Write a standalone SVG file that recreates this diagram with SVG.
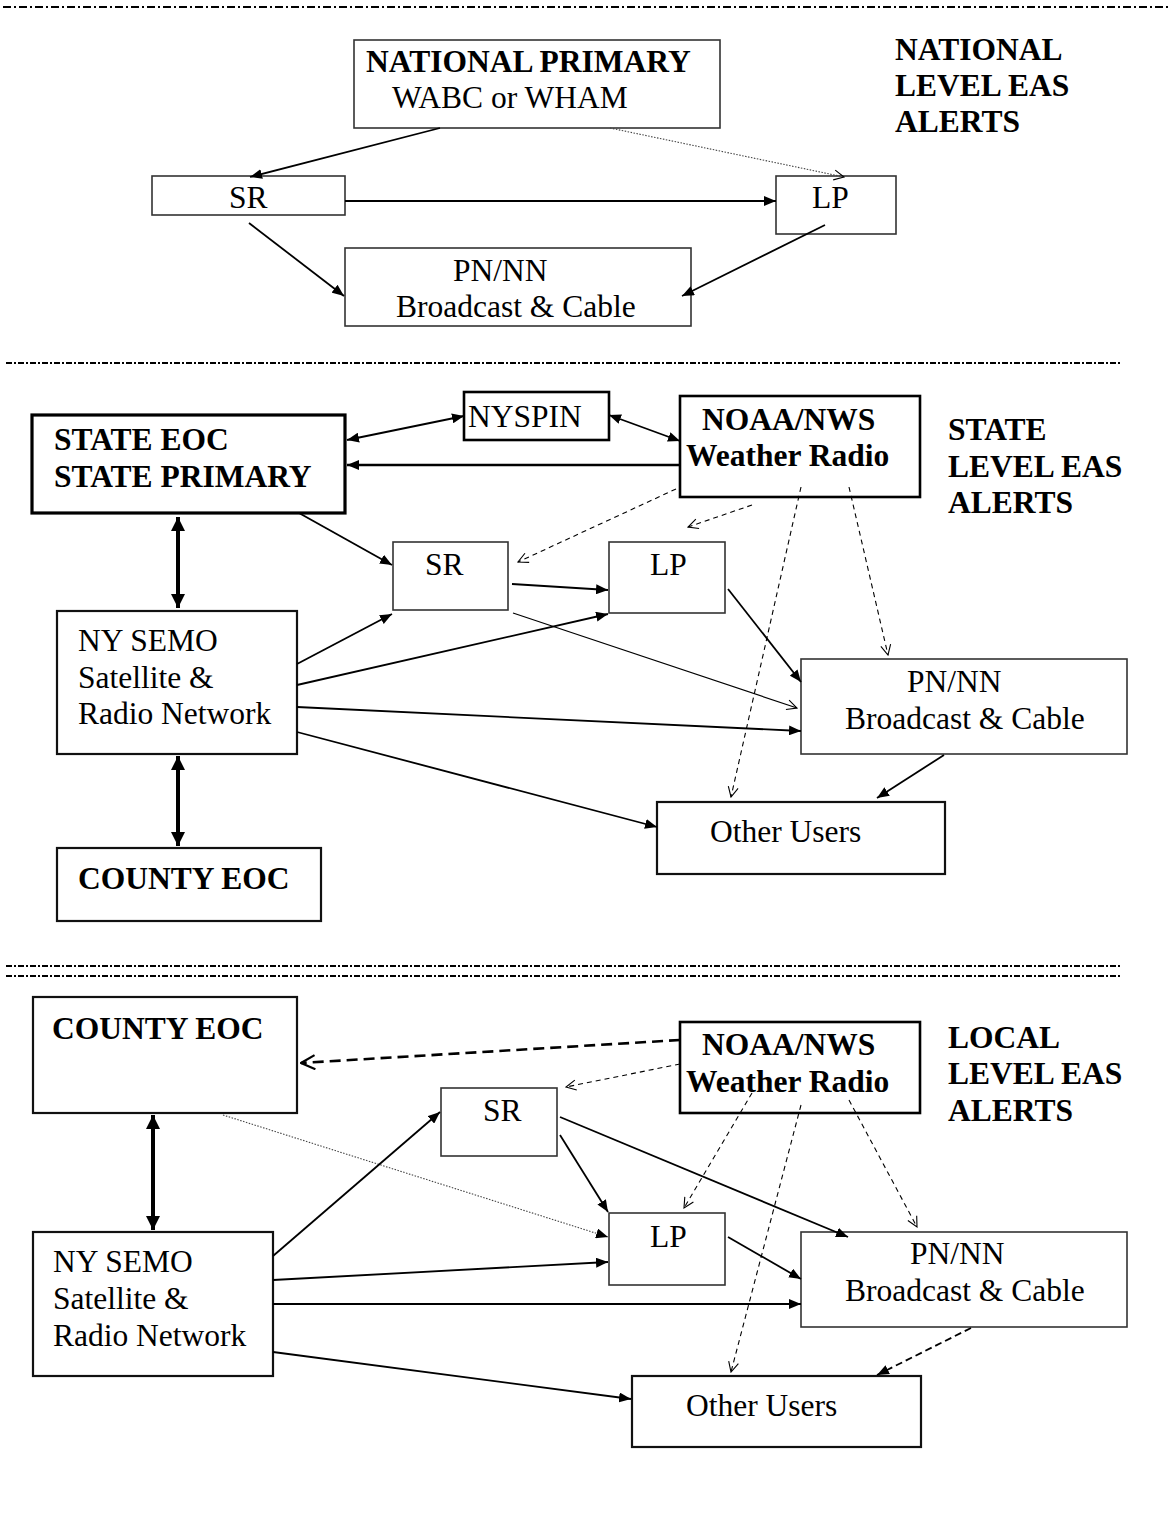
<svg xmlns="http://www.w3.org/2000/svg" width="1169" height="1516" viewBox="0 0 1169 1516">
<style>
text{font-family:"Liberation Serif","Times New Roman",serif;font-size:31.5px;fill:#000}
.b{font-weight:bold}
.box{fill:#fff;stroke:#333;stroke-width:1.6}
.bx2{fill:#fff;stroke:#111;stroke-width:2.2}
.bx3{fill:#fff;stroke:#000;stroke-width:3.2}
.c{fill:none;stroke:#000;stroke-width:1.8}
.thin{fill:none;stroke:#000;stroke-width:1.2}
.dash{fill:none;stroke:#000;stroke-width:1.1;stroke-dasharray:5 4}
.dot{fill:none;stroke:#444;stroke-width:1.1;stroke-dasharray:1.5 1.5}
.heavy{fill:none;stroke:#000;stroke-width:4}
.sep{fill:none;stroke:#000;stroke-width:2}
</style>
<defs>
<marker id="fa" viewBox="0 0 12 10" refX="12" refY="5" markerWidth="12" markerHeight="10" markerUnits="userSpaceOnUse" orient="auto-start-reverse"><path d="M0,0 L12,5 L0,10 z" fill="#000"/></marker>
<marker id="fb" viewBox="0 0 14 14" refX="14" refY="7" markerWidth="14" markerHeight="14" markerUnits="userSpaceOnUse" orient="auto-start-reverse"><path d="M0,0 L14,7 L0,14 z" fill="#000"/></marker>
<marker id="oa" viewBox="0 0 12 12" refX="11" refY="6" markerWidth="12" markerHeight="12" markerUnits="userSpaceOnUse" orient="auto"><path d="M1,1 L11,6 L1,11" fill="none" stroke="#000" stroke-width="1.1"/></marker>
<marker id="ob" viewBox="0 0 16 16" refX="15" refY="8" markerWidth="16" markerHeight="16" markerUnits="userSpaceOnUse" orient="auto"><path d="M1,1 L15,8 L1,15" fill="none" stroke="#000" stroke-width="2.2"/></marker>
</defs>

<g id="separators">
<line class="sep" x1="3" y1="7" x2="1169" y2="7" stroke-dasharray="8 3 2 3"/>
<line class="sep" x1="6" y1="363" x2="1122" y2="363" stroke-dasharray="6 2 2 2"/>
<line class="sep" x1="6" y1="966" x2="1122" y2="966" stroke-dasharray="6 2 2 2"/>
<line class="sep" x1="6" y1="976" x2="1122" y2="976" stroke-dasharray="6 2 2 2"/>
</g>

<g id="titles">
<text class="b" x="895" y="60">NATIONAL</text>
<text class="b" x="895" y="96">LEVEL EAS</text>
<text class="b" x="895" y="132">ALERTS</text>
<text class="b" x="948" y="440">STATE</text>
<text class="b" x="948" y="477">LEVEL EAS</text>
<text class="b" x="948" y="513">ALERTS</text>
<text class="b" x="948" y="1048">LOCAL</text>
<text class="b" x="948" y="1084">LEVEL EAS</text>
<text class="b" x="948" y="1121">ALERTS</text>
</g>

<!-- National -->
<g id="n-primary"><rect class="box" x="354" y="40" width="366" height="88"/><text class="b" x="366" y="72">NATIONAL PRIMARY</text><text x="392" y="108">WABC or WHAM</text></g>
<g id="n-sr"><rect class="box" x="152" y="176" width="193" height="39"/><text x="229" y="208">SR</text></g>
<g id="n-lp"><rect class="box" x="776" y="176" width="120" height="58"/><text x="812" y="208">LP</text></g>
<g id="n-pn"><rect class="box" x="345" y="248" width="346" height="78"/><text x="453" y="281">PN/NN</text><text x="396" y="317">Broadcast &amp; Cable</text></g>

<!-- State -->
<g id="s-eoc"><rect class="bx3" x="32" y="415" width="313" height="98"/><text class="b" x="54" y="450">STATE EOC</text><text class="b" x="54" y="487">STATE PRIMARY</text></g>
<g id="s-nyspin"><rect class="bx3" x="464" y="392" width="145" height="48" style="stroke-width:2.6"/><text x="468" y="427">NYSPIN</text></g>
<g id="s-noaa"><rect class="bx3" x="680" y="396" width="240" height="101" style="stroke-width:2.6"/><text class="b" x="702" y="430">NOAA/NWS</text><text class="b" x="686" y="466">Weather Radio</text></g>
<g id="s-sr"><rect class="box" x="393" y="542" width="115" height="68"/><text x="425" y="575">SR</text></g>
<g id="s-lp"><rect class="box" x="609" y="542" width="116" height="71"/><text x="650" y="575">LP</text></g>
<g id="s-semo"><rect class="bx2" x="57" y="611" width="240" height="143"/><text x="78" y="651">NY SEMO</text><text x="78" y="688">Satellite &amp;</text><text x="78" y="724">Radio Network</text></g>
<g id="s-pn"><rect class="box" x="801" y="659" width="326" height="95"/><text x="907" y="692">PN/NN</text><text x="845" y="729">Broadcast &amp; Cable</text></g>
<g id="s-other"><rect class="bx2" x="657" y="802" width="288" height="72"/><text x="710" y="842">Other Users</text></g>
<g id="s-county"><rect class="bx2" x="57" y="848" width="264" height="73"/><text class="b" x="78" y="889">COUNTY EOC</text></g>

<!-- Local -->
<g id="l-county"><rect class="bx2" x="33" y="997" width="264" height="116"/><text class="b" x="52" y="1039">COUNTY EOC</text></g>
<g id="l-noaa"><rect class="bx3" x="680" y="1022" width="240" height="91" style="stroke-width:2.6"/><text class="b" x="702" y="1055">NOAA/NWS</text><text class="b" x="686" y="1092">Weather Radio</text></g>
<g id="l-sr"><rect class="box" x="441" y="1088" width="116" height="68"/><text x="483" y="1121">SR</text></g>
<g id="l-lp"><rect class="box" x="609" y="1213" width="116" height="72"/><text x="650" y="1247">LP</text></g>
<g id="l-semo"><rect class="bx2" x="33" y="1232" width="240" height="144"/><text x="53" y="1272">NY SEMO</text><text x="53" y="1309">Satellite &amp;</text><text x="53" y="1346">Radio Network</text></g>
<g id="l-pn"><rect class="box" x="801" y="1232" width="326" height="95"/><text x="910" y="1264">PN/NN</text><text x="845" y="1301">Broadcast &amp; Cable</text></g>
<g id="l-other"><rect class="bx2" x="632" y="1376" width="289" height="71"/><text x="686" y="1416">Other Users</text></g>

<g id="connectors">
<!-- national -->
<path class="c" d="M440,128 L250,177" marker-end="url(#fa)"/>
<path class="dot" d="M610,128 L844,177" marker-end="url(#oa)"/>
<path class="c" d="M345,201 L776,201" marker-end="url(#fa)"/>
<path class="c" d="M249,223 L344,296" marker-end="url(#fa)"/>
<path class="c" d="M825,225 L682,296" marker-end="url(#fa)"/>
<!-- state -->
<path class="c" d="M347,440 L464,416" marker-start="url(#fa)" marker-end="url(#fa)"/>
<path class="c" d="M609,415 L680,441" marker-start="url(#fa)" marker-end="url(#fa)"/>
<path class="c" d="M680,465 L347,465" style="stroke-width:2.6" marker-end="url(#fa)"/>
<path class="heavy" d="M178,517 L178,608" marker-start="url(#fb)" marker-end="url(#fb)"/>
<path class="heavy" d="M178,756 L178,846" marker-start="url(#fb)" marker-end="url(#fb)"/>
<path class="c" d="M299,513 L392,565" marker-end="url(#fa)"/>
<path class="dash" d="M676,489 L518,562" marker-end="url(#oa)"/>
<path class="dash" d="M752,505 L688,527" marker-end="url(#oa)"/>
<path class="dash" d="M801,487 L731,797" marker-end="url(#oa)"/>
<path class="dash" d="M849,487 L888,655" marker-end="url(#oa)"/>
<path class="c" d="M512,584 L608,590" marker-end="url(#fa)"/>
<path class="thin" d="M513,613 L797,708" marker-end="url(#oa)"/>
<path class="c" d="M728,589 L801,682" marker-end="url(#fa)"/>
<path class="c" d="M297,664 L392,614" marker-end="url(#fa)"/>
<path class="c" d="M297,685 L608,614" marker-end="url(#fa)"/>
<path class="c" d="M297,707 L801,731" marker-end="url(#fa)"/>
<path class="c" d="M297,732 L657,827" marker-end="url(#fa)"/>
<path class="c" d="M944,755 L877,798" marker-end="url(#fa)"/>
<!-- local -->
<path d="M680,1040 L301,1063" fill="none" stroke="#000" stroke-width="2.6" stroke-dasharray="11 6" marker-end="url(#ob)"/>
<path class="dash" d="M680,1064 L566,1087" marker-end="url(#oa)"/>
<path class="heavy" d="M153,1115 L153,1230" marker-start="url(#fb)" marker-end="url(#fb)"/>
<path class="dot" d="M223,1115 L608,1237" marker-end="url(#fa)"/>
<path class="c" d="M273,1256 L440,1112" marker-end="url(#fa)"/>
<path class="c" d="M560,1135 L608,1212" marker-end="url(#fa)"/>
<path class="c" d="M560,1117 L848,1237" marker-end="url(#fa)"/>
<path class="dash" d="M752,1093 L684,1208" marker-end="url(#oa)"/>
<path class="dash" d="M801,1105 L731,1372" marker-end="url(#oa)"/>
<path class="dash" d="M849,1100 L917,1227" marker-end="url(#oa)"/>
<path class="c" d="M728,1237 L801,1279" marker-end="url(#fa)"/>
<path class="c" d="M273,1280 L608,1262" marker-end="url(#fa)"/>
<path class="c" d="M273,1304 L801,1304" marker-end="url(#fa)"/>
<path class="c" d="M273,1352 L631,1399" marker-end="url(#fa)"/>
<path d="M971,1328 L877,1375" fill="none" stroke="#000" stroke-width="1.8" stroke-dasharray="7 4" marker-end="url(#fa)"/>
</g>
</svg>
